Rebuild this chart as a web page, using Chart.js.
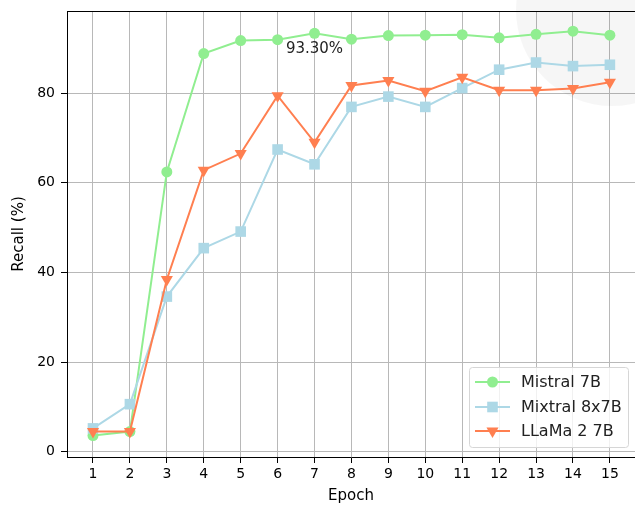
<!DOCTYPE html>
<html>
<head>
<meta charset="utf-8">
<script src="https://cdn.jsdelivr.net/npm/chart.js@4/dist/chart.umd.min.js"></script>
<style>
  html, body { margin: 0; padding: 0; background: #fff; }
  #chart-recall { display: block; }
</style>
</head>
<body>
<canvas id="chart-recall" width="635" height="506"></canvas>
<script>
// values
const epochs = [1, 2, 3, 4, 5, 6, 7, 8, 9, 10, 11, 12, 13, 14, 15];
const mistral7b = [3.6, 4.5, 62.4, 88.8, 91.7, 91.9, 93.3, 92.0, 92.8, 92.9, 93.0, 92.3, 93.1, 93.8, 92.9];
const mixtral8x7b = [5.2, 10.6, 34.6, 45.4, 49.1, 67.4, 64.1, 76.9, 79.2, 76.9, 81.1, 85.2, 86.8, 86.0, 86.3];
const llama2_7b = [4.5, 4.5, 38.4, 62.8, 66.5, 79.4, 69.0, 81.7, 82.8, 80.4, 83.5, 80.6, 80.6, 81.0, 82.4];
const yTicks = [0, 20, 40, 60, 80];
const seriesNames = ['Mistral 7B', 'Mixtral 8x7B', 'LLaMa 2 7B'];
const peakLabel = '93.30%';
const peakEpoch = 7;
const peakValue = 93.3;

const FONT = 'DejaVu Sans';
Chart.defaults.font.family = FONT;
Chart.defaults.font.size = 14;
Chart.defaults.color = '#000';

function pts(vals) {
  return vals.map((v, i) => ({ x: epochs[i], y: v }));
}

// faint round mark in the top right corner
const watermark = {
  id: 'watermark',
  beforeDatasetsDraw(chart) {
    const ctx = chart.ctx;
    ctx.save();
    ctx.fillStyle = 'rgba(0,0,0,0.035)';
    ctx.beginPath();
    ctx.arc(612, 10, 96, 0, Math.PI * 2);
    ctx.fill();
    ctx.restore();
  }
};

// top spine, annotation and the legend box
const extras = {
  id: 'extras',
  afterDraw(chart) {
    const ctx = chart.ctx;
    const a = chart.chartArea;
    const xs = chart.scales.x, ys = chart.scales.y;
    ctx.save();
    ctx.strokeStyle = '#000';
    ctx.lineWidth = 1;
    ctx.beginPath();
    ctx.moveTo(a.left, a.top + 0.5);
    ctx.lineTo(a.right, a.top + 0.5);
    ctx.stroke();

    ctx.font = '15px "' + FONT + '"';
    ctx.fillStyle = '#222';
    ctx.textAlign = 'center';
    ctx.textBaseline = 'middle';
    ctx.fillText(peakLabel, xs.getPixelForValue(peakEpoch), ys.getPixelForValue(peakValue) + 16);

    // legend
    const bx = 469.5, by = 367.5, bw = 159, bh = 80;
    ctx.fillStyle = 'rgba(255,255,255,0.8)';
    ctx.strokeStyle = '#d6d6d6';
    ctx.beginPath();
    ctx.roundRect(bx, by, bw, bh, 3);
    ctx.fill();
    ctx.stroke();
    const rows = [382, 407, 431];
    ctx.font = '16px "' + FONT + '"';
    chart.data.datasets.forEach((ds, i) => {
      const y = rows[i];
      ctx.strokeStyle = ds.borderColor;
      ctx.lineWidth = 2;
      ctx.beginPath();
      ctx.moveTo(475, y);
      ctx.lineTo(510, y);
      ctx.stroke();
      ctx.fillStyle = ds.backgroundColor;
      Chart.helpers.drawPoint(ctx, {
        pointStyle: ds.pointStyle,
        radius: ds.pointRadius,
        rotation: ds.pointRotation || 0,
        borderWidth: 0
      }, 492.5, y);
      ctx.fillStyle = '#222';
      ctx.textAlign = 'left';
      ctx.fillText(ds.label, 521, y + 1);
    });
    ctx.restore();
  }
};

new Chart(document.getElementById('chart-recall'), {
  type: 'line',
  data: {
    datasets: [
      {
        label: seriesNames[0], data: pts(mistral7b),
        borderColor: '#90ee90', backgroundColor: '#90ee90',
        pointStyle: 'circle', pointRadius: 5.5, borderWidth: 2, pointBorderWidth: 0, order: 3
      },
      {
        label: seriesNames[1], data: pts(mixtral8x7b),
        borderColor: '#add8e6', backgroundColor: '#add8e6',
        pointStyle: 'rect', pointRadius: 7.5, borderWidth: 2, pointBorderWidth: 0, order: 2
      },
      {
        label: seriesNames[2], data: pts(llama2_7b),
        borderColor: '#ff7f50', backgroundColor: '#ff7f50',
        pointStyle: 'triangle', pointRotation: 180, pointRadius: 7, borderWidth: 2, pointBorderWidth: 0, order: 1
      }
    ]
  },
  options: {
    responsive: false,
    devicePixelRatio: 1,
    animation: false,
    layout: { autoPadding: false, padding: { left: 0, right: 0, top: 11, bottom: 0 } },
    plugins: { legend: { display: false }, tooltip: { enabled: false } },
    scales: {
      x: {
        type: 'linear', min: 0.296, max: 15.68,
        afterBuildTicks: (s) => { s.ticks = epochs.map(v => ({ value: v })); },
        afterFit: (s) => { s.height = 49; s.paddingLeft = 0; s.paddingRight = 0; },
        ticks: { padding: 3, maxRotation: 0, autoSkip: false, callback: (v) => String(v) },
        grid: { color: '#b8b8b8', lineWidth: 1, tickColor: '#000', tickLength: 6 },
        border: { color: '#000', width: 1 },
        title: { display: true, text: 'Epoch', font: { size: 15 }, padding: { top: 0, bottom: 1 } }
      },
      y: {
        min: -1.18, max: 98.29,
        afterBuildTicks: (s) => { s.ticks = yTicks.map(v => ({ value: v })); },
        afterFit: (s) => { s.width = 67; s.paddingTop = 0; s.paddingBottom = 0; },
        ticks: { padding: 6, callback: (v) => String(v) },
        grid: { color: '#b8b8b8', lineWidth: 1, tickColor: '#000', tickLength: 6 },
        border: { color: '#000', width: 1 },
        title: { display: true, text: 'Recall (%)', font: { size: 15 }, padding: { top: 10, bottom: 0 } }
      }
    }
  },
  plugins: [watermark, extras]
});
</script>
</body>
</html>
